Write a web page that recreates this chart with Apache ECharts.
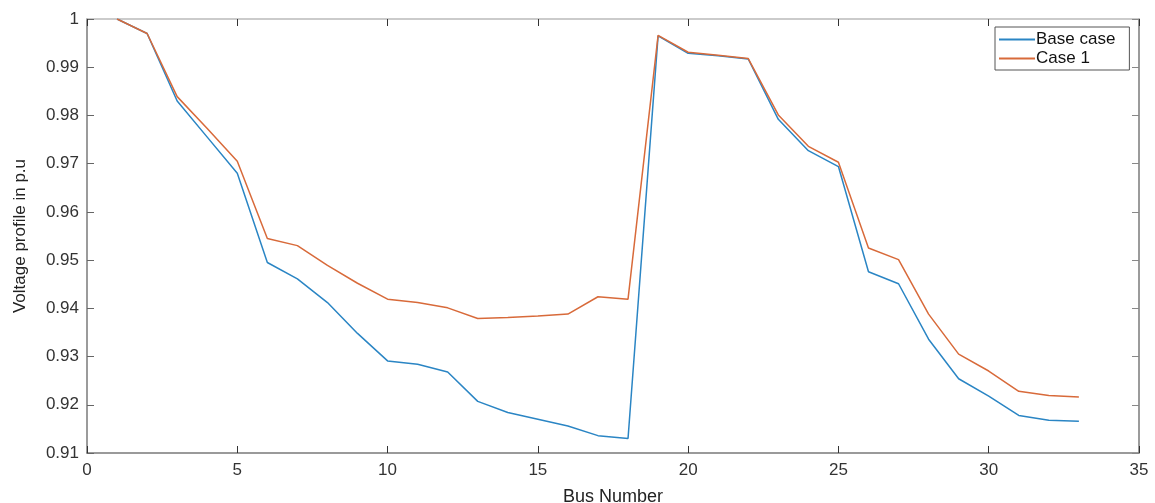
<!DOCTYPE html>
<html>
<head>
<meta charset="utf-8">
<script src="https://cdn.jsdelivr.net/npm/echarts@6/dist/echarts.min.js"></script>
<style>
  html, body { margin: 0; padding: 0; background: #fff; }
  #chart { width: 1155px; height: 503px; }
</style>
</head>
<body>
<div id="chart"></div>
<script>
// bus numbers 1..33
var buses = [1,2,3,4,5,6,7,8,9,10,11,12,13,14,15,16,17,18,19,20,21,22,23,24,25,26,27,28,29,30,31,32,33];

var baseCase = [1.0, 0.9970, 0.9830, 0.9755, 0.9680, 0.9495, 0.9461, 0.9412, 0.9348, 0.9291, 0.9284, 0.9268,
  0.9207, 0.9184, 0.9170, 0.9156, 0.9136, 0.9130, 0.9965, 0.9929, 0.9924, 0.9917, 0.9792, 0.9727, 0.9694,
  0.9476, 0.9451, 0.9336, 0.9254, 0.9218, 0.9178, 0.9168, 0.9166];

var case1 = [1.0, 0.9970, 0.9839, 0.9773, 0.9705, 0.9545, 0.9530, 0.9489, 0.9452, 0.9419, 0.9412, 0.9401,
  0.9379, 0.9381, 0.9384, 0.9388, 0.9424, 0.9419, 0.9966, 0.9931, 0.9925, 0.9918, 0.9801, 0.9736, 0.9703,
  0.9525, 0.9501, 0.9388, 0.9305, 0.9270, 0.9228, 0.9219, 0.9216];

var seriesNames = ['Base case', 'Case 1'];
var colors = ['#2a85c4', '#d86a3a'];

function pairs(vals) {
  return buses.map(function (b, i) { return [b, vals[i]]; });
}

var chart = echarts.init(document.getElementById('chart'));

var axisGray = '#7a7a7a';
var fontFam = 'Liberation Sans, Arial, sans-serif';

var option = {
  animation: false,
  backgroundColor: '#fff',
  textStyle: { fontFamily: fontFam },
  grid: { left: 87, right: 16, top: 19, bottom: 50, containLabel: false, outerBoundsMode: 'none' },
  legend: {
    data: seriesNames,
    orient: 'vertical',
    left: 995,
    top: 27,
    backgroundColor: '#fff',
    borderColor: '#555',
    borderWidth: 1,
    borderRadius: 0,
    padding: [4, 14, 3, 4],
    itemGap: 2,
    itemWidth: 36,
    itemHeight: 2,
    icon: 'rect',
    textStyle: { fontSize: 17, color: '#111', fontFamily: fontFam, padding: [0, 0, 0, -4] }
  },
  xAxis: [{
    type: 'value',
    min: 0, max: 35, interval: 5,
    name: 'Bus Number',
    nameLocation: 'middle',
    nameGap: 35,
    nameTextStyle: { fontSize: 18, color: '#222' },
    axisLine: { lineStyle: { color: axisGray, width: 1.5 } },
    axisTick: { inside: true, length: 7, lineStyle: { color: '#333' } },
    axisLabel: { fontSize: 17, color: '#333', margin: 9 },
    splitLine: { show: false }
  }, {
    type: 'value',
    position: 'top',
    min: 0, max: 35, interval: 5,
    axisLine: { show: true, onZero: false, lineStyle: { color: '#bbb', width: 1.5 } },
    axisTick: { inside: true, length: 7, lineStyle: { color: '#333' } },
    axisLabel: { show: false },
    splitLine: { show: false }
  }],
  yAxis: [{
    type: 'value',
    min: 0.91, max: 1, interval: 0.01,
    name: 'Voltage profile in p.u',
    nameLocation: 'middle',
    nameGap: 58,
    nameTextStyle: { fontSize: 17, color: '#222' },
    axisLine: { show: true, lineStyle: { color: axisGray, width: 1.5 } },
    axisTick: { show: true, inside: true, length: 7, lineStyle: { color: '#666' } },
    axisLabel: {
      fontSize: 17, color: '#333', margin: 8,
      formatter: function (v) { return Math.abs(v - 1) < 1e-9 ? '1' : v.toFixed(2); }
    },
    splitLine: { show: false }
  }, {
    type: 'value',
    position: 'right',
    min: 0.91, max: 1, interval: 0.01,
    axisLine: { show: true, onZero: false, lineStyle: { color: axisGray, width: 1.5 } },
    axisTick: { show: true, inside: true, length: 7, lineStyle: { color: '#888' } },
    axisLabel: { show: false },
    splitLine: { show: false }
  }],
  series: [{
    name: seriesNames[0],
    type: 'line',
    data: pairs(baseCase),
    showSymbol: false,
    symbol: 'none',
    lineStyle: { color: colors[0], width: 1.5 },
    itemStyle: { color: colors[0] }
  }, {
    name: seriesNames[1],
    type: 'line',
    data: pairs(case1),
    showSymbol: false,
    symbol: 'none',
    lineStyle: { color: colors[1], width: 1.5 },
    itemStyle: { color: colors[1] }
  }]
};

chart.setOption(option);
</script>
</body>
</html>
